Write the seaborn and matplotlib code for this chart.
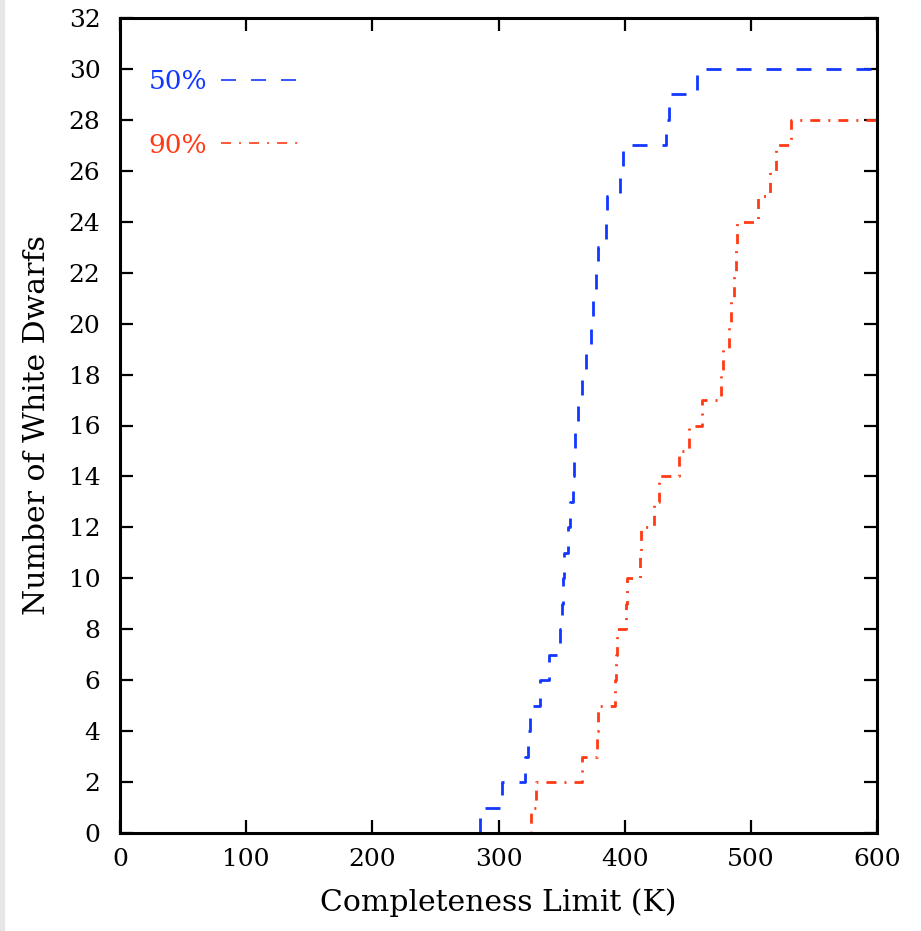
import matplotlib
matplotlib.use("Agg")
import matplotlib.pyplot as plt
import seaborn as sns
import pandas as pd

# Cumulative step data (completeness limit in K, number of white dwarfs)
x50 = [0, 285, 303, 321, 323, 325, 333, 340, 349, 350, 351, 352, 355, 357, 359, 360,
       361, 363, 366, 369, 373, 375, 377, 379, 385, 386, 396, 399, 433, 435, 457, 600]
y50 = [0, 1, 2, 3, 4, 5, 6, 7, 8, 9, 10, 11, 12, 13, 14, 15,
       16, 17, 18, 19, 20, 21, 22, 23, 24, 25, 26, 27, 28, 29, 30, 30]

x90 = [0, 326, 330, 366, 378, 379, 392, 393, 394, 401, 402, 412, 413, 423, 427, 443,
       451, 461, 476, 478, 483, 484, 487, 488, 489, 506, 515, 520, 532, 600]
y90 = [0, 1, 2, 3, 4, 5, 6, 7, 8, 9, 10, 11, 12, 13, 14, 15,
       16, 17, 18, 19, 20, 21, 22, 23, 24, 25, 26, 27, 28, 28]

labels = ["50%", "90%"]
xticks = [0, 100, 200, 300, 400, 500, 600]
yticks = list(range(0, 33, 2))

sns.set_theme(style="ticks")
plt.rcParams["font.family"] = ["DejaVu Serif"]
plt.rcParams["lines.scale_dashes"] = False
plt.rcParams["text.color"] = "black"
plt.rcParams["axes.labelcolor"] = "black"

fig = plt.figure(figsize=(9.21, 9.31), dpi=100)
fig.patches.append(plt.Rectangle((0, 0), 4 / 921, 1, transform=fig.transFigure,
                                 color="#e6e6e6", zorder=0))
ax = fig.add_axes([120 / 921, (931 - 833) / 931, 757 / 921, 815 / 931])

blue = "#1238ff"
red = "#ff3a14"

df50 = pd.DataFrame({"x": x50, "y": y50})
df90 = pd.DataFrame({"x": x90, "y": y90})

sns.lineplot(data=df50, x="x", y="y", ax=ax, color=blue, estimator=None,
             drawstyle="steps-post", linewidth=2.0, label=labels[0],
             linestyle=(0, (10.8, 10.8)))
sns.lineplot(data=df90, x="x", y="y", ax=ax, color=red, estimator=None,
             drawstyle="steps-post", linewidth=2.0, label=labels[1],
             linestyle=(0, (7.2, 5.8, 1.4, 5.8)))

ax.set_xlim(0, 600)
ax.set_ylim(0, 32)
ax.set_xticks(xticks)
ax.set_yticks(yticks)
ax.set_xticklabels([str(t) for t in xticks])
ax.set_yticklabels([str(t) for t in yticks])

for s in ax.spines.values():
    s.set_visible(True)
    s.set_linewidth(2.2)
    s.set_color("black")
    s.set_zorder(5)

ax.tick_params(axis="both", which="major", direction="in", length=9.5, width=1.6,
               top=True, right=True, labelsize=18, colors="black")
ax.tick_params(axis="x", pad=11)
ax.tick_params(axis="y", pad=14)

ax.set_xlabel("Completeness Limit (K)", fontsize=21.5, labelpad=12)
ax.set_ylabel("Number of White Dwarfs", fontsize=21.5, labelpad=13)

leg = ax.legend(loc="upper left", bbox_to_anchor=(0.038, 0.937), frameon=False,
                markerfirst=False, handlelength=3.1, handletextpad=0.5,
                labelspacing=1.45, borderpad=0, borderaxespad=0, fontsize=19,
                labelcolor="linecolor")
for h in leg.get_lines():
    h.set_linewidth(1.2)

fig.savefig("out.png", dpi=100)
